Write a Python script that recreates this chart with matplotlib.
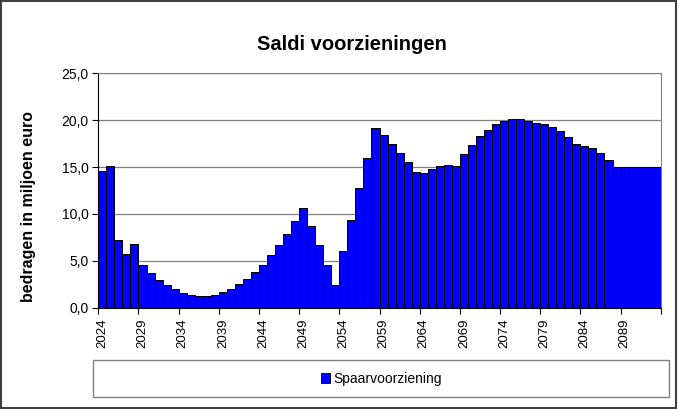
import matplotlib
matplotlib.use("Agg")
import matplotlib.pyplot as plt
from matplotlib.patches import Rectangle, Patch
from matplotlib.ticker import FuncFormatter

plt.rcParams['font.family'] = ['Liberation Sans', 'DejaVu Sans']

years = list(range(2024, 2094))
spaarvoorziening = [
    14.6, 15.1, 7.2, 5.7, 6.8, 4.5, 3.7, 3.0, 2.4, 2.0,
    1.6, 1.35, 1.25, 1.3, 1.4, 1.65, 2.0, 2.5, 3.05, 3.85,
    4.6, 5.6, 6.65, 7.9, 9.2, 10.6, 8.7, 6.7, 4.6, 2.4,
    6.0, 9.4, 12.8, 16.0, 19.2, 18.4, 17.5, 16.55, 15.55, 14.45,
    14.35, 14.8, 15.1, 15.25, 15.1, 16.35, 17.4, 18.3, 19.0, 19.55,
    19.95, 20.1, 20.15, 19.95, 19.7, 19.55, 19.3, 18.85, 18.2, 17.45,
    17.25, 17.0, 16.45, 15.8, 15.0, 15.0, 15.0, 15.0, 15.0, 15.0,
]
y_ticks = [0, 5, 10, 15, 20, 25]

fig = plt.figure(figsize=(6.78, 4.09), dpi=100)
ax = fig.add_axes([0.145, 0.2477, 0.8295, 0.5731])

ax.bar(years, spaarvoorziening, width=1.0, color='#0000FF',
       edgecolor='black', linewidth=0.7, zorder=3)

ax.set_xlim(years[0] - 0.5, years[-1] + 0.5)
ax.set_ylim(0, 25)
ax.set_yticks(y_ticks)
ax.yaxis.set_major_formatter(FuncFormatter(lambda v, p: f"{v:.1f}".replace('.', ',')))
ax.tick_params(axis='y', labelsize=10, length=4, direction='out', pad=3)
ax.grid(axis='y', color='#808080', linewidth=0.9, zorder=0)

# ticks between categories, labels on bars
edges = [y - 0.5 for y in years[::5]] + [years[-1] + 0.5]
ax.set_xticks(edges)
ax.set_xticklabels([''] * len(edges))
ax.set_xticks(years[::5], minor=True)
ax.set_xticklabels([str(y) for y in years[::5]], minor=True, rotation=90, fontsize=9.5)
ax.tick_params(axis='x', which='major', length=4, direction='out')
ax.tick_params(axis='x', which='minor', length=0, pad=8)

for s in ['top', 'right']:
    ax.spines[s].set_color('#808080')
for s in ['left', 'bottom']:
    ax.spines[s].set_color('black')

fig.text(0.519, 0.89, 'Saldi voorzieningen', ha='center', va='center',
         fontsize=14.5, fontweight='bold')
fig.text(0.042, 1 - 206 / 409, 'bedragen in miljoen euro', ha='center', va='center',
         rotation=90, fontsize=11.5, fontweight='bold')

# legend box
fig.patches.append(Rectangle((92.7 / 678, 1 - 397 / 409), (669.3 - 92.7) / 678, 37 / 409,
                             transform=fig.transFigure, facecolor='white',
                             edgecolor='#808080', linewidth=1.0))
fig.legend(handles=[Patch(facecolor='#0000FF', edgecolor='black', linewidth=0.6,
                          label='Spaarvoorziening')],
           loc='center', bbox_to_anchor=(381 / 678, 1 - 378.5 / 409), frameon=False,
           fontsize=10, handlelength=0.7, handleheight=0.7, handletextpad=0.2)

# outer border
fig.patches.append(Rectangle((0.002, 0.003), 0.995, 0.994, transform=fig.transFigure,
                             fill=False, edgecolor='#404040', linewidth=1.5))

fig.savefig('out.png', dpi=100)
